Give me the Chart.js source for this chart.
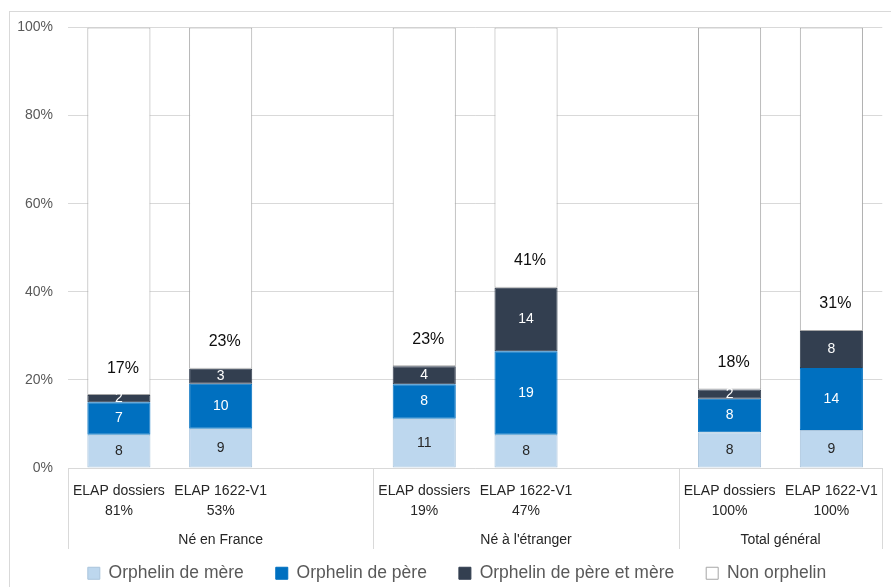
<!DOCTYPE html>
<html><head><meta charset="utf-8">
<script src="https://cdn.jsdelivr.net/npm/chart.js@4.4.0/dist/chart.umd.min.js"></script>
<style>html,body{margin:0;padding:0;background:#fff}#wrap{width:891px;height:587px;position:relative}</style>
</head><body><div id="wrap"><canvas id="c" width="891" height="587"></canvas></div>
<script>
// ---- data ----
const categories = [['ELAP dossiers','81%'],['ELAP 1622-V1','53%'],'',['ELAP dossiers','19%'],['ELAP 1622-V1','47%'],'',['ELAP dossiers','100%'],['ELAP 1622-V1','100%']];
const groupLabels = ['Né en France', "Né à l'étranger", 'Total général'];
const groupSizes = [3, 3, 2];
const seriesNames = ['Orphelin de mère', 'Orphelin de père', 'Orphelin de père et mère', 'Non orphelin'];
const orphelinMere     = [7.55, 8.9, null, 11.2, 7.55, null, 8.1, 8.6];
const orphelinPere     = [7.4, 10.2, null, 7.8, 18.95, null, 7.6, 14.1];
const orphelinPereMere = [1.6, 3.45, null, 4.1, 14.4, null, 2.1, 8.4];
const nonOrphelin      = [83.45, 77.45, null, 76.9, 59.1, null, 82.2, 68.9];
const totalLabels      = ['17%', '23%', null, '23%', '41%', null, '18%', '31%'];
const yTickStep = 20;

const FONT = "'Liberation Sans', Arial, sans-serif";
const colors = ['#BDD7EE', '#0070C0', '#333F50', '#FFFFFF'];
const labelColors = ['#262626', '#FFFFFF', '#FFFFFF', null];

const segLabels = {
  id: 'segLabels',
  afterDatasetsDraw(chart) {
    const ctx = chart.ctx;
    ctx.save();
    ctx.textAlign = 'center';
    ctx.textBaseline = 'middle';
    chart.data.datasets.forEach((ds, di) => {
      const meta = chart.getDatasetMeta(di);
      meta.data.forEach((el, i) => {
        const v = ds.data[i];
        if (v == null) return;
        if (di < 3) {
          ctx.font = '14px ' + FONT;
          ctx.fillStyle = labelColors[di];
          ctx.fillText(String(Math.round(v)), el.x, (el.y + el.base) / 2);
        } else {
          ctx.font = '16px ' + FONT;
          ctx.fillStyle = '#0D0D0D';
          ctx.fillText(totalLabels[i], el.x + 4, el.base - 27);
        }
      });
    });
    ctx.restore();
  }
};

const groupAxis = {
  id: 'groupAxis',
  afterLayout(chart) {
    // shift legend block to match reference centring
    if (chart.legend) { chart.legend.left += 14; chart.legend.right += 14; }
  },
  beforeDraw(chart) {
    const ctx = chart.ctx;
    ctx.save();
    ctx.strokeStyle = '#D9D9D9';
    ctx.lineWidth = 1;
    ctx.strokeRect(9.5, 11.5, 900, 600);
    ctx.restore();
  },
  afterDraw(chart) {
    const ctx = chart.ctx;
    const x = chart.scales.x;
    const area = chart.chartArea;
    const slot = (x.right - x.left) / categories.length;
    ctx.save();
    ctx.strokeStyle = '#D9D9D9';
    ctx.lineWidth = 1;
    const yTop = area.bottom, yBot = area.bottom + 81;
    let idx = 0;
    const bounds = [x.left];
    groupSizes.forEach(n => { idx += n; bounds.push(x.left + idx * slot); });
    bounds.forEach(b => {
      const bx = Math.round(b) + 0.5;
      ctx.beginPath(); ctx.moveTo(bx, yTop); ctx.lineTo(bx, yBot); ctx.stroke();
    });
    ctx.font = '14px ' + FONT;
    ctx.fillStyle = '#262626';
    ctx.textAlign = 'center';
    ctx.textBaseline = 'middle';
    groupLabels.forEach((g, i) => {
      ctx.fillText(g, (bounds[i] + bounds[i + 1]) / 2, area.bottom + 72);
    });
    ctx.restore();
  }
};

const datasets = [orphelinMere, orphelinPere, orphelinPereMere, nonOrphelin].map((d, i) => ({
  label: seriesNames[i],
  data: d,
  backgroundColor: colors[i],
  borderColor: i === 3 ? '#A6A6A6' : (i === 0 ? '#A9C4DC' : colors[i]),
  borderWidth: 1,
  borderSkipped: false,
  barPercentage: 0.62,
  categoryPercentage: 1.0
}));

new Chart(document.getElementById('c'), {
  type: 'bar',
  data: { labels: categories, datasets },
  options: {
    responsive: false,
    animation: false,
    layout: { padding: { top: 27.5, left: 0, right: 5, bottom: -5 } },
    scales: {
      x: {
        stacked: true,
        grid: { display: false, drawTicks: false },
        border: { display: false },
        ticks: { color: '#262626', font: { family: FONT, size: 14, lineHeight: 1.43 }, padding: 13, maxRotation: 0, autoSkip: false },
        afterFit(s) { s.height = 64.5; }
      },
      y: {
        stacked: true,
        min: 0, max: 100,
        grid: { color: '#D9D9D9', drawTicks: false },
        border: { display: false },
        ticks: { stepSize: yTickStep, color: '#595959', font: { family: FONT, size: 14 }, padding: 15, callback: v => v + '%' },
        afterFit(s) { s.width = 68; }
      }
    },
    plugins: {
      legend: {
        position: 'bottom',
        labels: { color: '#595959', font: { family: FONT, size: 17.5 }, boxWidth: 12, boxHeight: 12, padding: 32 }
      },
      tooltip: { enabled: false }
    }
  },
  plugins: [segLabels, groupAxis]
});
</script>
</body></html>
